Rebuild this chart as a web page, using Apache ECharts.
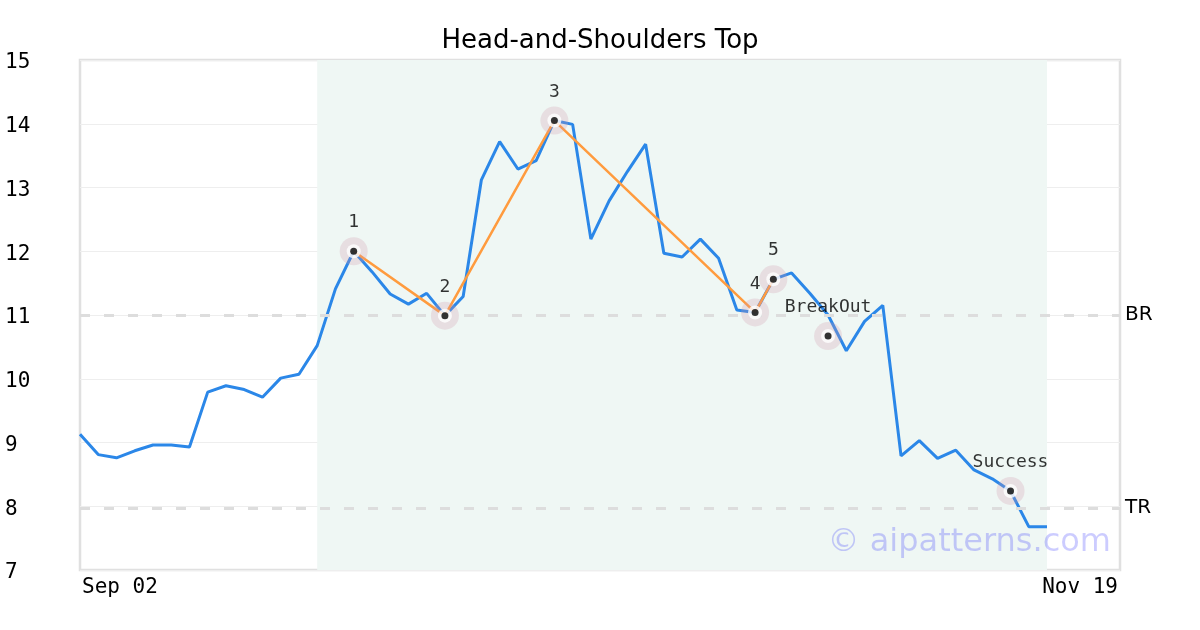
<!DOCTYPE html>
<html>
<head>
<meta charset="utf-8">
<script src="https://cdn.jsdelivr.net/npm/echarts@6/dist/echarts.min.js"></script>
<style>html,body{margin:0;padding:0;background:#fff;}#c{width:1200px;height:630px;}</style>
</head>
<body>
<div id="c"></div>
<script>
// ---- data ----
const chartTitle = 'Head-and-Shoulders Top';
const xTickLabels = ['Sep 02', 'Nov 19'];
const xMax = 57;
const prices = [9.13, 8.81, 8.76, 8.87, 8.96, 8.96, 8.93, 9.79, 9.89, 9.83,
  9.71, 10.01, 10.07, 10.52, 11.41, 12.00, 11.68, 11.33, 11.17, 11.34,
  10.99, 11.29, 13.12, 13.72, 13.29, 13.42, 14.05, 13.99, 12.19, 12.79,
  13.25, 13.68, 11.97, 11.91, 12.19, 11.89, 11.08, 11.04, 11.56, 11.66,
  11.34, 11.00, 10.44, 10.90, 11.15, 8.79, 9.03, 8.75, 8.88, 8.57,
  8.43, 8.24, 7.68, 7.68];
const patternIdx = [15, 20, 26, 37, 38];
const patternVals = [12.00, 10.99, 14.05, 11.04, 11.56];
const patternLabels = ['1', '2', '3', '4', '5'];
const eventIdx = [41, 51];
const eventVals = [10.67, 8.24];
const eventLabels = ['BreakOut', 'Success'];
const shadeRange = [13, 53];
const levelNames = ['BR', 'TR'];
const levelVals = [11.0, 7.97];
const yTicks = [7, 15, 1]; // min, max, interval
const watermark = '\u00a9 aipatterns.com';

// ---- build ----
const lineData = prices.map((v, i) => [i, v]);
const patternData = patternIdx.map((x, i) => [x, patternVals[i]]);
const markerData = patternIdx.map((x, i) => ({ value: [x, patternVals[i]], name: patternLabels[i] }))
  .concat(eventIdx.map((x, i) => ({ value: [x, eventVals[i]], name: eventLabels[i] })));

const mono = '"DejaVu Sans Mono", monospace';
const sans = '"DejaVu Sans", sans-serif';

const chart = echarts.init(document.getElementById('c'), null, { renderer: 'canvas' });
chart.setOption({
  animation: false,
  backgroundColor: '#fff',
  title: {
    text: chartTitle, left: 'center', top: 23,
    textStyle: { fontFamily: sans, fontSize: 26, fontWeight: 'normal', color: '#000' }
  },
  grid: { left: 80, right: 80, top: 60, bottom: 60, show: true, borderColor: '#e0e0e0', borderWidth: 2.5, containLabel: false },
  xAxis: {
    type: 'value', min: 0, max: xMax, interval: xMax,
    axisLine: { show: false }, axisTick: { show: false }, splitLine: { show: false },
    axisLabel: {
      fontFamily: mono, fontSize: 21, color: '#000', margin: 7,
      alignMinLabel: 'left', alignMaxLabel: 'right',
      padding: [0, 2, 0, 2],
      formatter: v => (v === 0 ? xTickLabels[0] : (v === xMax ? xTickLabels[1] : ''))
    }
  },
  yAxis: {
    type: 'value', min: yTicks[0], max: yTicks[1], interval: yTicks[2],
    axisLine: { show: false }, axisTick: { show: false },
    splitLine: { lineStyle: { color: '#eee', width: 1 } },
    axisLabel: {
      fontFamily: mono, fontSize: 21, color: '#000', align: 'left', margin: 75,
      formatter: v => '{a|' + v + '}',
      rich: { a: { fontFamily: mono, fontSize: 21, color: '#000', padding: [6, 0, 0, 0] } }
    }
  },
  graphic: [{
    type: 'text', right: 89, top: 527, z: 100,
    style: { text: watermark, font: '32px "DejaVu Sans"', fill: 'rgba(0,0,255,0.2)' }
  }],
  series: [
    {
      type: 'line', data: lineData, showSymbol: false, z: 2,
      lineStyle: { color: '#2b87e8', width: 3 },
      markArea: {
        silent: true,
        itemStyle: { color: '#eff7f4' },
        data: [[{ xAxis: shadeRange[0] }, { xAxis: shadeRange[1] }]]
      },
      markLine: {
        silent: true, symbol: 'none',
        lineStyle: { color: '#ddd', type: [10, 14], width: 3 },
        label: { position: 'end', distance: 5, fontFamily: sans, fontSize: 20, color: '#000', formatter: p => p.name },
        data: levelVals.map((v, i) => ({ yAxis: v, name: levelNames[i] }))
      }
    },
    {
      type: 'line', data: patternData, showSymbol: false, z: 3,
      lineStyle: { color: '#ff9b3e', width: 2.5 }
    },
    {
      type: 'scatter', data: markerData, symbolSize: 28, z: 4, silent: true,
      itemStyle: { color: 'rgba(210,150,170,0.32)' }
    },
    {
      type: 'scatter', data: markerData, symbolSize: 14, z: 5, silent: true,
      itemStyle: { color: '#fff' }
    },
    {
      type: 'scatter', data: markerData, symbolSize: 7, z: 6, silent: true,
      itemStyle: { color: '#000' },
      label: {
        show: true, position: 'top', distance: 16,
        fontFamily: mono, fontSize: 18, color: '#000',
        formatter: p => p.name
      }
    }
  ]
});
</script>
</body>
</html>
